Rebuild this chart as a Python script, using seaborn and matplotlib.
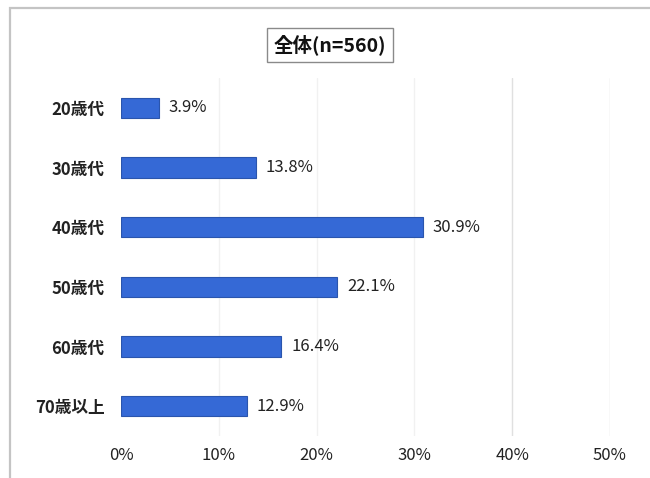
import matplotlib
matplotlib.use("Agg")
import matplotlib.pyplot as plt
from matplotlib.patches import Rectangle
import seaborn as sns
import pandas as pd

# Age groups and their share of respondents (%)
categories = ["20歳代", "30歳代", "40歳代", "50歳代", "60歳代", "70歳以上"]
shares = [3.9, 13.8, 30.9, 22.1, 16.4, 12.9]
x_ticks = [0, 10, 20, 30, 40, 50]
x_tick_labels = ["0%", "10%", "20%", "30%", "40%", "50%"]
title = "全体(n=560)"

sns.set_theme(style="white")
plt.rcParams["font.family"] = ["Noto Sans CJK JP", "DejaVu Sans"]

df = pd.DataFrame({"age": categories, "share": shares})

fig = plt.figure(figsize=(6.5, 4.78), dpi=100)
fig.patch.set_facecolor("white")

# outer frame of the chart area
fig.patches.append(Rectangle((10 / 650, -0.05), 1.0, 1 - 8 / 478 + 0.05,
                             transform=fig.transFigure, fill=False,
                             edgecolor="#c4c4c4", linewidth=1.6, zorder=0))

ax = fig.add_axes([121 / 650, 1 - 436 / 478, (610 - 121) / 650, (436 - 78) / 478])

sns.barplot(data=df, x="share", y="age", orient="h", ax=ax,
            color="#3569d6", width=0.34, saturation=1,
            edgecolor="#2a55ad", linewidth=0.8)

ax.set_xlim(0, 50)
ax.set_ylim(5.5, -0.5)
ax.set_xticks(x_ticks)
ax.set_xticklabels(x_tick_labels, fontsize=12, color="#222222")
ax.set_xlabel("")
ax.set_ylabel("")
ax.tick_params(axis="x", length=0, pad=8)
ax.tick_params(axis="y", length=0, pad=12)
for lbl in ax.get_yticklabels():
    lbl.set_fontsize(12)
    lbl.set_fontweight("bold")
    lbl.set_color("#222222")

for s in ax.spines.values():
    s.set_visible(False)

# faint vertical gridlines
for xv in x_ticks[1:]:
    ax.axvline(xv, color="#f1f1f1" if xv < 40 else "#e0e0e0",
               linewidth=1.0, zorder=0)

# value labels at bar ends
for i, v in enumerate(shares):
    ax.annotate(f"{v}%", (v, i), xytext=(7, 0), textcoords="offset points",
                va="center", ha="left", fontsize=12, color="#222222")

# boxed title
fig.text(330 / 650, 1 - 45 / 478, title, ha="center", va="center",
         fontsize=14, fontweight="bold", color="#111111",
         bbox=dict(boxstyle="square,pad=0.35", facecolor="white",
                   edgecolor="#8a8a8a", linewidth=1.0))

fig.savefig("out.png", dpi=100, facecolor="white")
